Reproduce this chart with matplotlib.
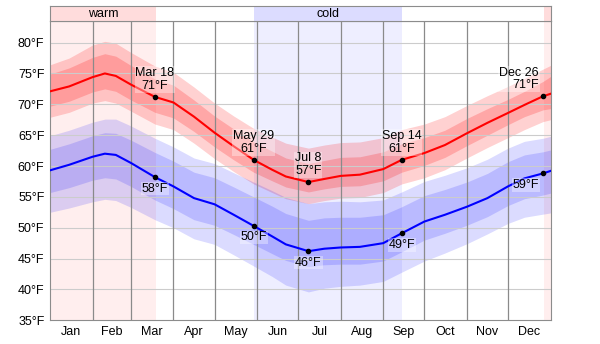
import matplotlib
matplotlib.use("Agg")
import matplotlib.pyplot as plt

plt.rcParams["font.family"] = ["Liberation Sans", "DejaVu Sans"]
plt.rcParams["font.size"] = 9

# day of year (Jan 1 = 0) for each sample
DAYS = [0, 14, 31, 40, 48, 59, 76.5, 90, 105, 120, 134, 148.5, 162, 172, 188.5,
        200, 212, 226, 243, 256.5, 273, 288, 304, 319, 334, 346, 359.5, 365]

# daily high: mean line and percentile bands
HIGH = [72.1, 72.9, 74.4, 75.0, 74.6, 73.2, 71.2, 70.3, 68.0, 65.4, 63.2, 61.0, 59.4, 58.3, 57.4,
        57.9, 58.4, 58.6, 59.5, 61.0, 62.1, 63.4, 65.3, 67.0, 68.6, 69.9, 71.3, 71.7]
HIGH_P90 = [76.4, 77.5, 79.6, 80.2, 79.9, 78.4, 76.2, 75.2, 72.8, 70.2, 68.1, 66.1, 64.7, 63.7, 62.9,
            63.4, 63.8, 63.9, 64.6, 65.9, 66.8, 68.0, 69.8, 71.4, 72.9, 74.2, 75.7, 76.3]
HIGH_P75 = [74.9, 75.9, 77.6, 78.2, 77.8, 76.3, 74.1, 73.1, 70.7, 68.1, 66.0, 63.9, 62.4, 61.3, 60.4,
            60.9, 61.4, 61.5, 62.3, 63.6, 64.6, 65.8, 67.7, 69.3, 70.8, 72.1, 73.7, 74.5]
HIGH_P25 = [69.7, 70.5, 72.0, 72.5, 72.1, 70.7, 68.7, 67.8, 65.6, 63.1, 61.0, 59.0, 57.6, 56.6, 55.8,
            56.3, 56.7, 56.8, 57.6, 59.0, 60.1, 61.4, 63.3, 65.0, 66.7, 68.0, 69.1, 69.3]
HIGH_P10 = [67.9, 68.7, 70.2, 70.6, 70.2, 68.9, 66.8, 65.9, 63.7, 61.2, 59.1, 57.1, 55.7, 54.7, 53.9,
            54.4, 54.8, 54.9, 55.7, 57.1, 58.1, 59.4, 61.3, 63.0, 64.6, 65.9, 67.2, 67.5]

# daily low
LOW = [59.3, 60.2, 61.5, 62.0, 61.8, 60.5, 58.2, 56.7, 54.8, 53.8, 52.1, 50.3, 48.6, 47.3, 46.2,
       46.6, 46.8, 46.9, 47.5, 49.1, 51.0, 52.1, 53.4, 54.8, 56.7, 58.0, 58.8, 59.2]
LOW_P90 = [64.9, 65.8, 67.1, 67.6, 67.6, 66.5, 64.5, 63.1, 61.3, 60.4, 58.9, 57.4, 56.0, 54.9, 53.9,
           54.2, 54.3, 54.2, 54.5, 55.8, 57.5, 58.5, 59.7, 61.1, 62.9, 64.0, 64.5, 64.8]
LOW_P75 = [62.7, 63.6, 64.9, 65.4, 65.3, 64.2, 62.2, 60.8, 59.0, 58.1, 56.6, 55.0, 53.5, 52.3, 51.2,
           51.6, 51.7, 51.7, 52.1, 53.4, 55.2, 56.2, 57.4, 58.8, 60.7, 61.8, 62.3, 62.6]
LOW_P25 = [55.7, 56.5, 57.7, 58.1, 57.9, 56.7, 54.5, 53.1, 51.3, 50.4, 48.9, 47.3, 45.8, 44.7, 43.7,
           44.0, 44.1, 44.1, 44.6, 46.1, 48.0, 49.1, 50.4, 51.8, 53.6, 54.7, 55.3, 55.6]
LOW_P10 = [52.5, 53.2, 54.2, 54.6, 54.4, 53.3, 51.3, 50.0, 48.2, 47.3, 45.6, 43.8, 42.1, 40.7, 39.6,
           40.2, 40.5, 40.7, 41.3, 42.8, 44.6, 45.9, 47.4, 49.0, 50.7, 51.7, 52.2, 52.4]

# annotated days
MARK_DAYS = [76.5, 148.5, 188.5, 256.5, 359.5]
MARK_NAMES = ["Mar 18", "May 29", "Jul 8", "Sep 14", "Dec 26"]
MARK_HIGH = [71.2, 61.0, 57.4, 61.0, 71.3]
MARK_LOW = [58.2, 50.3, 46.2, 49.1, 58.8]
MARK_HIGH_TXT = ["71°F", "61°F", "57°F", "61°F", "71°F"]
MARK_LOW_TXT = ["58°F", "50°F", "46°F", "49°F", "59°F"]

WARM = [(0, 77), (360, 365)]
COLD = [(149, 257)]

MONTH_START = [0, 31, 59, 90, 120, 151, 181, 212, 243, 273, 304, 334, 365]
MONTHS = ["Jan", "Feb", "Mar", "Apr", "May", "Jun", "Jul", "Aug", "Sep", "Oct", "Nov", "Dec"]
YTICKS = [35, 40, 45, 50, 55, 60, 65, 70, 75, 80]

FRAME = "#8c8c8c"
W, H = 600, 344
fig = plt.figure(figsize=(6, 3.44), dpi=100)
ax = fig.add_axes([50 / W, (H - 320.3) / H, 500.5 / W, 299.3 / H])
hd = fig.add_axes([50 / W, (H - 21) / H, 500.5 / W, 15 / H])

for a, b in WARM:
    ax.axvspan(a, b, color="#ffeeee", lw=0, zorder=0)
    hd.axvspan(a, b, color="#ffdcdc", lw=0, zorder=0)
for a, b in COLD:
    ax.axvspan(a, b, color="#eeeeff", lw=0, zorder=0)
    hd.axvspan(a, b, color="#dcdcff", lw=0, zorder=0)

# percentile bands
ax.fill_between(DAYS, HIGH_P10, HIGH_P90, color="#ff0000", alpha=0.18, lw=0, zorder=1)
ax.fill_between(DAYS, HIGH_P25, HIGH_P75, color="#ff0000", alpha=0.2, lw=0, zorder=1)
ax.fill_between(DAYS, LOW_P10, LOW_P90, color="#0000ff", alpha=0.14, lw=0, zorder=1)
ax.fill_between(DAYS, LOW_P25, LOW_P75, color="#0000ff", alpha=0.15, lw=0, zorder=1)

for y in YTICKS[1:]:
    ax.axhline(y, color="#cccccc", lw=0.8, zorder=2)
for d in MONTH_START[1:-1]:
    ax.axvline(d, color="#8a8a8a", lw=0.9, zorder=2)

ax.plot(DAYS, HIGH, color="#ff0000", lw=1.5, zorder=3)
ax.plot(DAYS, LOW, color="#0000ff", lw=1.5, zorder=3)
ax.plot(MARK_DAYS, MARK_HIGH, "o", color="black", ms=3, zorder=4)
ax.plot(MARK_DAYS, MARK_LOW, "o", color="black", ms=3, zorder=4)

box = dict(facecolor="white", alpha=0.35, edgecolor="none", pad=0.5)
for i, d in enumerate(MARK_DAYS):
    last = i == len(MARK_DAYS) - 1
    ha = "right" if last else "center"
    xo = -3 if last else 0
    ax.annotate(MARK_NAMES[i] + "\n" + MARK_HIGH_TXT[i], (d, MARK_HIGH[i]), xytext=(xo, 3.5),
                textcoords="offset points", ha=ha, va="bottom", fontsize=9,
                linespacing=1.1, bbox=box, zorder=5)
    ax.annotate(MARK_LOW_TXT[i], (d, MARK_LOW[i]), xytext=(xo, -4),
                textcoords="offset points", ha=ha, va="top", fontsize=9,
                bbox=box, zorder=5)

ax.set_xlim(0, 365)
ax.set_ylim(35, 83.5)
ax.set_yticks(YTICKS)
ax.set_yticklabels([f"{v}°F" for v in YTICKS], fontsize=9)
mids = [(MONTH_START[i] + MONTH_START[i + 1]) / 2 for i in range(12)]
ax.set_xticks(mids)
ax.set_xticklabels(MONTHS, fontsize=9)
ax.tick_params(length=0, pad=4, colors="black")
for sp in ax.spines.values():
    sp.set_color(FRAME)

hd.set_xlim(0, 365)
hd.set_ylim(0, 1)
hd.set_xticks([])
hd.set_yticks([])
for sp in hd.spines.values():
    sp.set_color(FRAME)
hd.text(sum(WARM[0]) / 2, 0.45, "warm", ha="center", va="center", fontsize=9)
hd.text(sum(COLD[0]) / 2, 0.45, "cold", ha="center", va="center", fontsize=9)

fig.savefig("out.png", dpi=100, facecolor="white")
